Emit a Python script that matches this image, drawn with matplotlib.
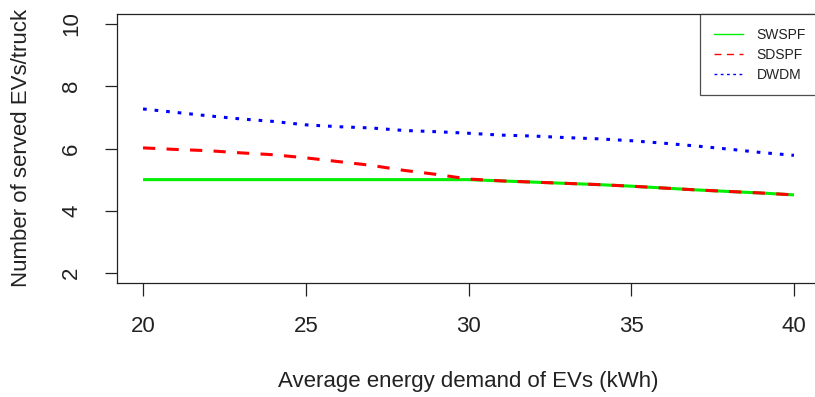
import matplotlib
matplotlib.use("Agg")
import matplotlib.pyplot as plt
from matplotlib.lines import Line2D

plt.rcParams['font.family'] = ['Liberation Sans', 'DejaVu Sans']

# Average energy demand of EVs (kWh)
demand = [20, 21, 22, 23, 24, 25, 26, 27, 28, 29, 30,
          31, 32, 33, 34, 35, 36, 37, 38, 39, 40]

# Number of served EVs per truck for each strategy
swspf = [5.00, 5.00, 5.00, 5.00, 5.00, 5.00, 5.00, 5.00, 5.00, 5.00, 5.00,
         4.96, 4.92, 4.88, 4.84, 4.79, 4.73, 4.67, 4.62, 4.57, 4.51]
sdspf = [6.02, 5.97, 5.93, 5.86, 5.80, 5.70, 5.58, 5.46, 5.30, 5.17, 5.02,
         4.96, 4.92, 4.88, 4.84, 4.79, 4.73, 4.67, 4.62, 4.57, 4.51]
dwdm = [7.27, 7.16, 7.05, 6.95, 6.87, 6.76, 6.70, 6.66, 6.58, 6.54, 6.49,
        6.43, 6.40, 6.35, 6.31, 6.25, 6.17, 6.08, 5.98, 5.87, 5.78]

series_names = ['SWSPF', 'SDSPF', 'DWDM']
xticks = [20, 25, 30, 35, 40]
yticks = [2, 4, 6, 8, 10]

W, H = 815, 397
fig = plt.figure(figsize=(W / 100, H / 100), dpi=100)
# plot region in pixels: left 117, right 820, top 14, bottom 283
ax = fig.add_axes([117 / W, 1 - 283 / H, (820 - 117) / W, (283 - 14) / H])

lw = 2.2
ax.plot(demand, swspf, color='#00ee00', lw=lw, solid_capstyle='butt')
ax.plot(demand, sdspf, color='#ff0000', lw=lw, dashes=(4, 3.7), dash_capstyle='butt')
ax.plot(demand, dwdm, color='#0000ff', lw=lw, dashes=(1.2, 2.6), dash_capstyle='butt')

ax.set_xlim(19.2, 40.8)
ax.set_ylim(1.68, 10.32)
ax.set_xticks(xticks)
ax.set_yticks(yticks)
ax.set_xticklabels([str(v) for v in xticks])
ax.set_yticklabels([str(v) for v in yticks], rotation=90, va='center')
ax.tick_params(axis='both', direction='out', length=9, width=0.9,
               labelsize=16, color='#222222', labelcolor='#222222')
ax.tick_params(axis='x', pad=15)
ax.tick_params(axis='y', pad=16)
for s in ax.spines.values():
    s.set_linewidth(0.9)
    s.set_color('#222222')

fig.text(468 / W, 1 - 381 / H, 'Average energy demand of EVs (kWh)',
         ha='center', va='center', fontsize=16, color='#222222')
fig.text(22 / W, 1 - 148 / H, 'Number of served EVs/truck',
         ha='center', va='center', rotation=90, fontsize=16, color='#222222')

handles = [
    Line2D([], [], color='#00ee00', lw=1.0),
    Line2D([], [], color='#ff0000', lw=1.0, dashes=(5, 4)),
    Line2D([], [], color='#0000ff', lw=1.0, dashes=(2, 2.5)),
]
leg = ax.legend(handles, series_names, loc='upper right', bbox_to_anchor=(1, 1),
                borderaxespad=0, fontsize=10, frameon=True, fancybox=False,
                edgecolor='#222222', handlelength=2.1, handletextpad=1.0,
                labelspacing=0.42, borderpad=1.0)
leg.get_frame().set_linewidth(0.9)
for t in leg.get_texts():
    t.set_color('#222222')

fig.savefig('out.png', dpi=100)
